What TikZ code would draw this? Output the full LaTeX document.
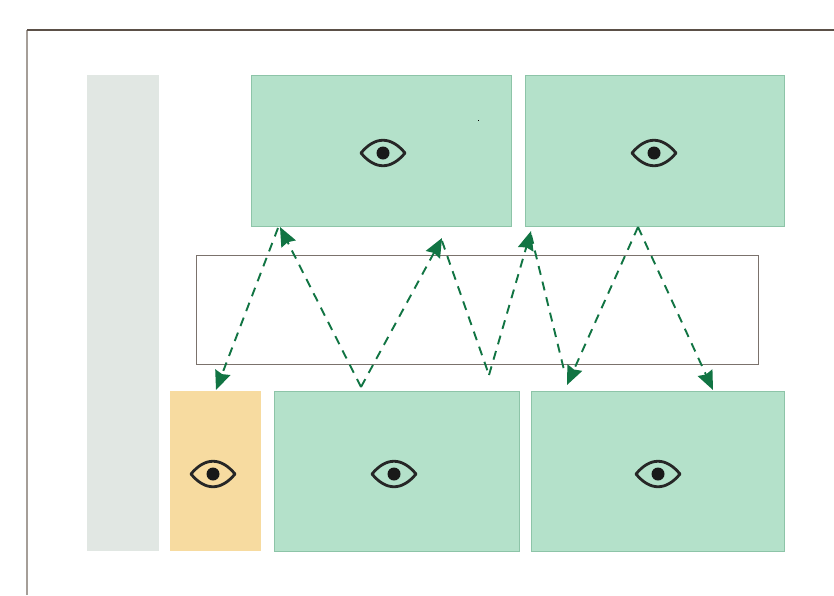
\documentclass[tikz,border=0pt]{standalone}
\usetikzlibrary{arrows.meta}
\definecolor{greenfill}{HTML}{B4E1CA}
\definecolor{greenline}{HTML}{8DC4A8}
\definecolor{grayfill}{HTML}{E1E7E3}
\definecolor{orangefill}{HTML}{F7DBA0}
\definecolor{arrowgreen}{HTML}{117443}
\definecolor{framecol}{HTML}{5B5048}
\definecolor{frameleft}{HTML}{A59E98}
\definecolor{midline}{HTML}{7B726C}
\tikzset{
  box/.style={rectangle, inner sep=0pt, outer sep=0pt, anchor=north west},
  greenbox/.style={box, fill=greenfill, draw=greenline, line width=0.8pt},
  orangebox/.style={box, fill=orangefill},
  graybar/.style={box, fill=grayfill},
  midbox/.style={box, draw=midline, line width=1pt, fill=white},
  flow/.style={draw=arrowgreen, line width=1.9pt, dash pattern=on 9pt off 7pt},
  flowhead/.style={flow, -{Stealth[length=19pt,width=16pt,inset=2pt]}},
  eyeicon/.pic={
    \draw[line width=2.8pt, line join=round, black!85]
      (-22,0) .. controls (-8,-17) and (8,-17) .. (22,0)
      .. controls (8,17) and (-8,17) .. (-22,0) -- cycle;
    \fill[black!90] (0,0) circle (6.5);
  }
}
\begin{document}
\begin{tikzpicture}[x=1pt,y=-1pt]
\useasboundingbox (0,0) rectangle (834,595);
% frame
\draw[frameleft, line width=1.6pt] (27,595) -- (27,30);
\draw[framecol, line width=1.3pt] (27,30) -- (834,30);
% boxes
\node[graybar, minimum width=72, minimum height=476] (bar) at (87,75) {};
\node[greenbox, minimum width=260, minimum height=151] (t1) at (251,75) {};
\node[greenbox, minimum width=259, minimum height=151] (t2) at (525,75) {};
\node[midbox, minimum width=562, minimum height=109] (mid) at (196,255) {};
\node[orangebox, minimum width=91, minimum height=160] (o1) at (170,391) {};
\node[greenbox, minimum width=245, minimum height=160] (b1) at (274,391) {};
\node[greenbox, minimum width=253, minimum height=160] (b2) at (531,391) {};
% eyes
\pic at (383,153) {eyeicon};
\pic at (654,153) {eyeicon};
\pic at (213,474) {eyeicon};
\pic at (394,474) {eyeicon};
\pic at (658,474) {eyeicon};
\fill[black] (477.5,119.5) rectangle (479,121);
% arrow points
\coordinate (p1) at (278,228);
\coordinate (q1) at (216,390);
\coordinate (v1) at (361,387);
\coordinate (p2) at (280,227);
\coordinate (p3) at (442,238);
\coordinate (p4) at (442,241);
\coordinate (v2) at (489,375);
\coordinate (p5) at (531,231);
\coordinate (p6) at (531,235);
\coordinate (q6) at (565,374);
\coordinate (p7) at (638,227);
\coordinate (q7) at (567,385);
\coordinate (q8) at (713,390);
% arrows
\draw[flowhead] (p1) -- (q1);
\draw[flowhead] (v1) -- (p2);
\draw[flowhead] (v1) -- (p3);
\draw[flow] (p4) -- (v2);
\draw[flowhead] (v2) -- (p5);
\draw[flow] (p6) -- (q6);
\draw[flowhead] (p7) -- (q7);
\draw[flowhead] (p7) -- (q8);
\end{tikzpicture}
\end{document}
